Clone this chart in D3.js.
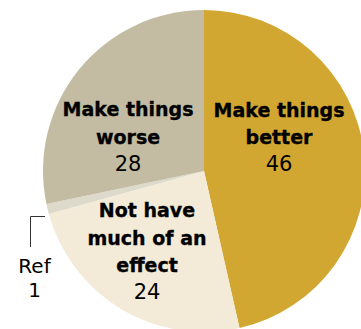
<!DOCTYPE html>
<html><head><meta charset="utf-8">
<script src="https://cdn.jsdelivr.net/npm/d3@7"></script>
<style>body{margin:0;background:#fff}svg{display:block}</style>
</head><body>
<svg id="c" width="361" height="329"></svg>
<script>
const categories = ["Make things better", "Not have much of an effect", "Ref", "Make things worse"];
const values = [46, 24, 1, 28];
const colors = ["#D2A731", "#F3EBD7", "#DEDACB", "#C3BCA3"];
const labelLines = [["Make things", "better"], ["Not have", "much of an", "effect"], [], ["Make things", "worse"]];

const svg = d3.select("#c");
const cx = 204, cy = 171, r = 161;
const g = svg.append("g").attr("transform", `translate(${cx},${cy})`);
const pie = d3.pie().sort(null).value(d => d)(values);
const arc = d3.arc().innerRadius(0).outerRadius(r);
g.selectAll("path").data(pie).join("path")
  .attr("d", arc).attr("fill", (d, i) => colors[i]);

// label positions (offsets relative to center)
const labelPos = [[75, -54.5], [-57, 46], null, [-76, -55]];
pie.forEach((d, i) => {
  if (!labelPos[i]) return;
  const [lx, ly] = labelPos[i];
  const t = g.append("text").attr("text-anchor", "middle")
    .attr("font-family", "DejaVu Sans").attr("fill", "#000");
  labelLines[i].forEach((s, k) => {
    t.append("tspan").attr("x", lx).attr("y", ly + k * 27.5)
      .attr("font-weight", "bold").attr("font-size", 19)
      .attr("stroke", "#000").attr("stroke-width", 0.35).text(s);
  });
  t.append("tspan").attr("x", lx).attr("y", ly + labelLines[i].length * 27.5 - 0.5)
    .attr("font-size", 21).text(values[i]);
});

// Ref callout
svg.append("path").attr("d", "M45,216.5H30.5V247").attr("fill", "none")
  .attr("stroke", "#333").attr("stroke-width", 1);
const rt = svg.append("text").attr("text-anchor", "middle")
  .attr("font-family", "DejaVu Sans").attr("font-size", 20).attr("fill", "#000");
rt.append("tspan").attr("x", 34.5).attr("y", 273).text(categories[2]);
rt.append("tspan").attr("x", 34.5).attr("y", 297).text(values[2]);
</script>
</body></html>
